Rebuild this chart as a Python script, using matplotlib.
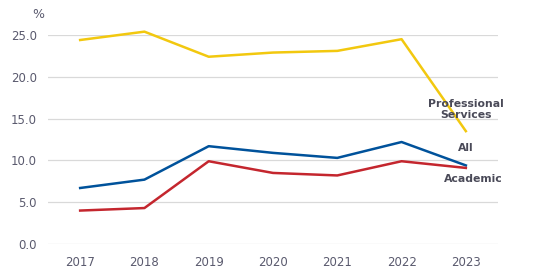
import matplotlib
matplotlib.use("Agg")
import matplotlib.pyplot as plt

years = [2017, 2018, 2019, 2020, 2021, 2022, 2023]
prof_services = [24.4, 25.4, 22.4, 22.9, 23.1, 24.5, 13.5]
all_staff = [6.7, 7.7, 11.7, 10.9, 10.3, 12.2, 9.4]
academic = [4.0, 4.3, 9.9, 8.5, 8.2, 9.9, 9.1]
yticks = [0, 5, 10, 15, 20, 25]

_C = {
    "prof": "#F2C80F",
    "all": "#00529B",
    "acad": "#C4262E",
    "grid": "#D9D9D9",
    "tick": "#5A5A6E",
    "label": "#4A4A58",
}

fig = plt.figure(figsize=(5.44, 2.74), dpi=100)
ax = fig.add_axes([48 / 544, 1 - 244 / 274, 450 / 544, 209 / 274])

for vals, key in [(prof_services, "prof"), (all_staff, "all"), (academic, "acad")]:
    ax.plot(years, vals, color=_C[key], lw=1.8, clip_on=False)

ax.set_xlim(2016.5, 2023.5)
ax.set_ylim(0, 25)
ax.set_yticks(yticks)
ax.set_yticklabels([f"{v:.1f}" for v in yticks])
ax.set_xticks(years)
ax.grid(axis="y", color=_C["grid"], lw=0.9)
ax.set_axisbelow(True)
for s in ax.spines.values():
    s.set_visible(False)
ax.tick_params(length=0, colors=_C["tick"], labelsize=8.5)
ax.tick_params(axis="y", pad=8)
ax.tick_params(axis="x", pad=9)

fig.text(38 / 544, 1 - 15 / 274, "%", color=_C["tick"], fontsize=9,
         ha="center", va="center")

# end labels (offsets in pixels)
lab = dict(color=_C["label"], fontsize=7.8, fontweight="bold",
           textcoords="offset pixels", ha="center", va="center")
ax.annotate("Professional\nServices", xy=(2023, prof_services[-1]), xytext=(0, 22),
            linespacing=1.15, **lab)
ax.annotate("All", xy=(2023, all_staff[-1]), xytext=(0, 17), **lab)
ax.annotate("Academic", xy=(2023, academic[-1]), xytext=(7, -11), **lab)

fig.savefig("out.png", dpi=100)
